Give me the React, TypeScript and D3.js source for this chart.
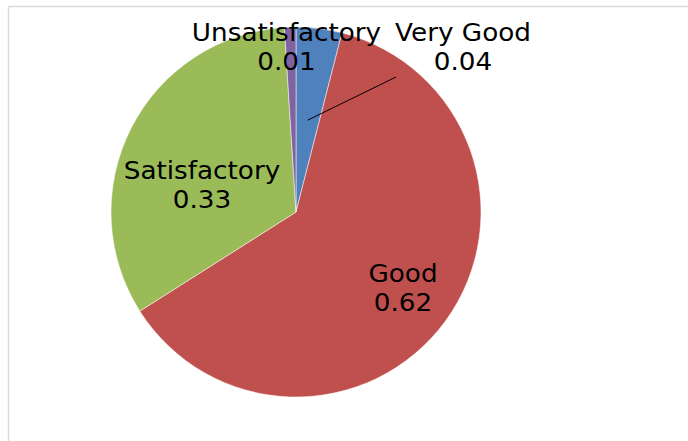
import React from "react";
import * as d3 from "d3";

const categories = ["Very Good", "Good", "Satisfactory", "Unsatisfactory"];
const values = [0.04, 0.62, 0.33, 0.01];
const colors = ["#4F81BD", "#C0504D", "#9BBB59", "#8064A2"];

const W = 688;
const H = 441;
const cx = 296;
const cy = 212;
const R = 185;

// label anchor positions (center x, first baseline y)
const labelLayout: Record<string, { x: number; y: number; leader?: [number, number] }> = {
  "Very Good": { x: 463, y: 41, leader: [396, 77] },
  Good: { x: 403, y: 282 },
  Satisfactory: { x: 202, y: 179 },
  Unsatisfactory: { x: 286.5, y: 41 },
};

const FS = 25;
const SX = 1.05;

export default function App() {
  const pie = d3
    .pie<number>()
    .sort(null)
    .value((d) => d);
  const arcs = pie(values);
  const arc = d3.arc<d3.PieArcDatum<number>>().innerRadius(0).outerRadius(R);

  return (
    <svg
      width={W}
      height={H}
      style={{ position: "absolute", left: 0, top: 0, background: "#fff" }}
      fontFamily="'DejaVu Sans', sans-serif"
    >
      <rect x={0} y={0} width={W} height={H} fill="#fff" />
      <line x1={8.5} y1={6.5} x2={W} y2={6.5} stroke="#d9d9d9" strokeWidth={1.5} />
      <line x1={8.5} y1={6.5} x2={8.5} y2={H} stroke="#d9d9d9" strokeWidth={1.5} />
      <g transform={`translate(${cx},${cy})`}>
        {arcs.map((a, i) => (
          <path key={i} d={arc(a) || ""} fill={colors[i]} stroke="#fff" strokeWidth={0.5} />
        ))}
      </g>
      {arcs.map((a, i) => {
        const name = categories[i];
        const L = labelLayout[name];
        const c = arc.centroid(a);
        return (
          <g key={name}>
            {L.leader && (
              <line
                x1={cx + c[0]}
                y1={cy + c[1]}
                x2={L.leader[0]}
                y2={L.leader[1]}
                stroke="#000"
                strokeWidth={1}
              />
            )}
            <g transform={`translate(${L.x},${L.y}) scale(${SX},1)`}>
              <text x={0} y={0} textAnchor="middle" fontSize={FS} fill="#000">
                {name}
              </text>
              <text x={0} y={29} textAnchor="middle" fontSize={FS} fill="#000">
                {d3.format(".2f")(values[i])}
              </text>
            </g>
          </g>
        );
      })}
    </svg>
  );
}
